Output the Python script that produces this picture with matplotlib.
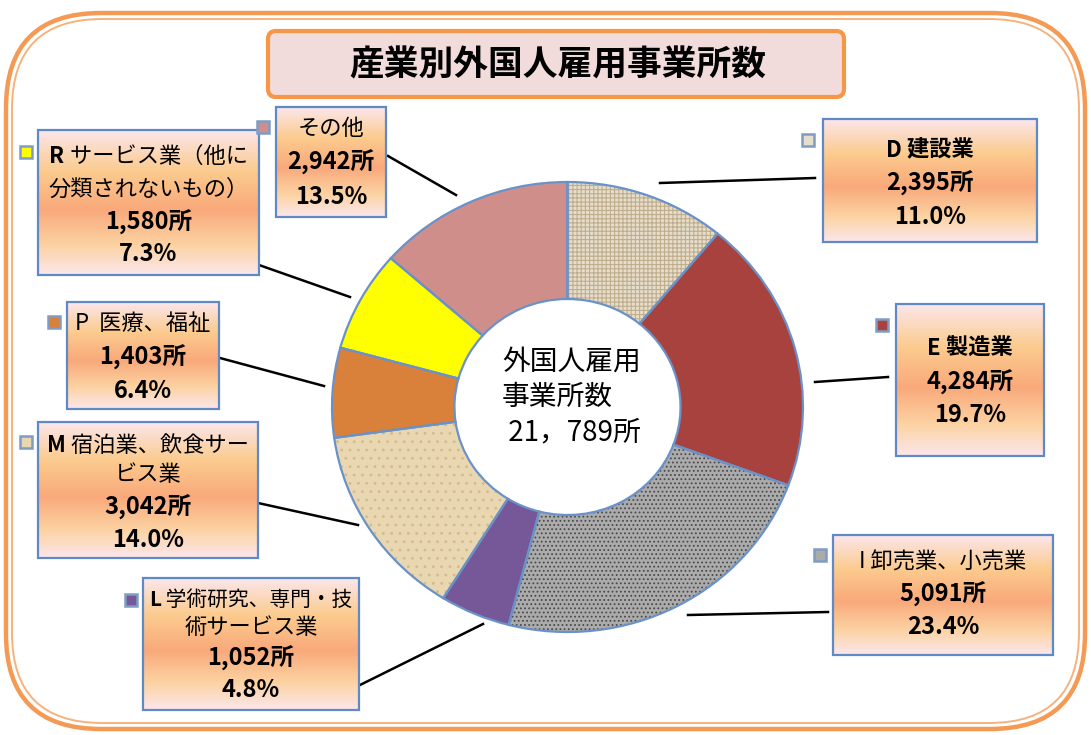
import matplotlib
matplotlib.use("Agg")
import matplotlib.pyplot as plt
import numpy as np
from matplotlib.patches import FancyBboxPatch, Rectangle
from matplotlib.colors import LinearSegmentedColormap

plt.rcParams['font.family'] = ['Noto Sans CJK JP', 'DejaVu Sans']
plt.rcParams['hatch.linewidth'] = 0.8

# データ（時計回り、12時から）
labels = [["D 建設業"], ["E 製造業"], ["I 卸売業、小売業"], ["L 学術研究、専門・技", "術サービス業"],
          ["M 宿泊業、飲食サー", "ビス業"], ["P  医療、福祉"], ["R サービス業（他に", "分類されないもの）"],
          ["その他"]]
counts = [2395, 4284, 5091, 1052, 3042, 1403, 1580, 2942]
total = sum(counts)
title = "産業別外国人雇用事業所数"
center_lines = ["外国人雇用", "事業所数", " 21，789所"]

colors = ['#e7ddcb', '#a8423e', '#ababab', '#765797', '#e9d7b1', '#d9803a', '#ffff00', '#d08e8a']
hatches = ['++++', None, '....', None, '..', None, None, None]
hatch_cols = ['#bfae8e', None, '#4a4a4a', None, '#d3bb8a', None, None, None]

# ラベルの箱（x0, y0, x1, y1 ピクセル）、マーカー位置、引き出し線
boxes = [(823, 119, 1037, 242), (896, 304, 1044, 456), (833, 535, 1053, 655), (143, 578, 359, 710),
         (38, 422, 258, 558), (67, 302, 219, 409), (38, 130, 259, 275), (276, 107, 386, 217)]
line_ys = [[150, 183, 217], [348, 382, 415], [562, 594, 627], [600, 627, 658, 690],
           [445, 474, 507, 540], [323, 357, 391], [156, 189, 222, 254], [128, 162, 197]]
markers = [(808, 140), (882, 325), (820, 555), (131, 600), (26, 442), (54, 322), (26, 152), (263, 127)]
leaders = [((660, 183), (815, 178)), ((815, 382), (888, 377)), ((688, 615), (828, 612)),
           ((360, 685), (483, 624)), ((258, 503), (358, 525)), ((220, 358), (324, 386)),
           ((259, 265), (350, 297)), ((388, 156), (456, 195))]
bold_head = [True, True, False, True, True, False, True, False]
bold_all = [True, True, False, False, False, False, False, False]

W, H = 1091, 735
fig = plt.figure(figsize=(W / 100, H / 100), dpi=100)
fig.patch.set_facecolor('white')
ax = fig.add_axes([0, 0, 1, 1])
ax.set_xlim(0, W)
ax.set_ylim(H, 0)
ax.axis('off')
renderer = fig.canvas.get_renderer()

# 外枠（二重線）
ax.add_patch(FancyBboxPatch((6, 13), W - 12, H - 19, boxstyle="round,pad=0,rounding_size=95",
                            fc='none', ec='#f59a55', lw=3.2))
ax.add_patch(FancyBboxPatch((12, 19), W - 24, H - 31, boxstyle="round,pad=0,rounding_size=90",
                            fc='none', ec='#f7b27c', lw=1.4))

# タイトル
ax.add_patch(FancyBboxPatch((268, 31), 576, 66, boxstyle="round,pad=0,rounding_size=8",
                            fc='#f2dcdb', ec='#f79646', lw=3))
ax.text(558, 65, title, fontsize=25, fontweight='bold', ha='center', va='center')

# グラデーション
grad = LinearSegmentedColormap.from_list('g', [(0, '#fbe6ea'), (0.28, '#fccb8e'), (0.55, '#f9a97b'),
                                               (0.8, '#fcd3a3'), (1, '#fbe6ea')])
gimg = grad(np.linspace(0, 1, 100))[:, None, :]


def head_line(cx, y, s, bold_rest, maxw):
    # 先頭の英字を太字にして中央揃え
    letter, rest = s[0], s[1:]
    fs = 16
    t1 = ax.text(0, y, letter, fontsize=fs, fontweight='bold', ha='left', va='center', zorder=4)
    t2 = ax.text(0, y, rest, fontsize=fs, fontweight='bold' if bold_rest else 'normal',
                 ha='left', va='center', zorder=4)
    w1 = t1.get_window_extent(renderer).width
    w2 = t2.get_window_extent(renderer).width
    if w1 + w2 > maxw:
        k = maxw / (w1 + w2)
        t1.set_fontsize(fs * k)
        t2.set_fontsize(fs * k)
        w1, w2 = w1 * k, w2 * k
    x0 = cx - (w1 + w2) / 2
    t1.set_x(x0)
    t2.set_x(x0 + w1)


for i, (x0, y0, x1, y1) in enumerate(boxes):
    ax.imshow(gimg, extent=(x0, x1, y1, y0), origin='upper', aspect='auto', zorder=2)
    ax.add_patch(Rectangle((x0, y0), x1 - x0, y1 - y0, fc='none', ec='#5f8ac6', lw=1.6, zorder=3))
    cx = (x0 + x1) / 2
    lines = labels[i]
    ys = line_ys[i]
    for j, s in enumerate(lines):
        if j == 0 and bold_head[i]:
            head_line(cx, ys[j], s, bold_all[i], x1 - x0 - 12)
        else:
            ax.text(cx, ys[j], s, fontsize=16, ha='center', va='center', zorder=4,
                    fontweight='bold' if bold_all[i] else 'normal')
    ax.text(cx, ys[len(lines)], f"{counts[i]:,}所", fontsize=17, fontweight='bold',
            ha='center', va='center', zorder=4)
    ax.text(cx, ys[len(lines) + 1], f"{counts[i] / total * 100:.1f}%", fontsize=17,
            fontweight='bold', ha='center', va='center', zorder=4)
    mx, my = markers[i]
    ax.add_patch(Rectangle((mx - 6, my - 6), 12, 12, fc=colors[i], ec='#7f9cc4', lw=1.8, zorder=3))
    (a, b), (c, d) = leaders[i]
    ax.plot([a, c], [b, d], color='black', lw=1.8, zorder=1)

ax.set_xlim(0, W)
ax.set_ylim(H, 0)

# ドーナツ
pax = fig.add_axes([332 / W, (H - 632) / H, 471 / W, 450 / H])
wedges, _ = pax.pie(counts, colors=colors, startangle=90, counterclock=False,
                    wedgeprops=dict(width=0.52, linewidth=0))
for w, h, hc in zip(wedges, hatches, hatch_cols):
    if h:
        w.set_hatch(h)
        w.set_edgecolor(hc)
pax.pie(counts, colors=['none'] * len(counts), startangle=90, counterclock=False,
        wedgeprops=dict(width=0.52, linewidth=1.6, edgecolor='#6a92c8'))
pax.set_aspect('auto')
pax.set_xlim(-1, 1)
pax.set_ylim(-1, 1)
pax.axis('off')

for s, y in zip(center_lines, [362, 397, 432]):
    ax.text(502, y, s, fontsize=20, ha='left', va='center', zorder=5)

fig.savefig('out.png', dpi=100)
